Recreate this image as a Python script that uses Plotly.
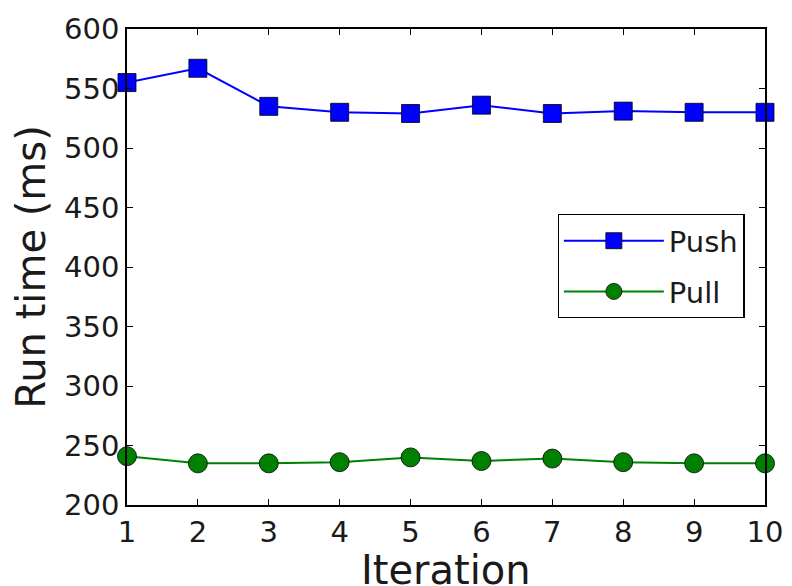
import plotly.graph_objects as go

iterations = [1, 2, 3, 4, 5, 6, 7, 8, 9, 10]
push_ms = [555, 567, 535, 530, 529, 536, 529, 531, 530, 530]
pull_ms = [241, 235, 235, 236, 240, 237, 239, 236, 235, 235]

fig = go.Figure()
fig.add_trace(go.Scatter(
    x=iterations, y=push_ms, name="Push", mode="lines+markers",
    legendgroup="push",
    line=dict(color="#0000ff", width=2),
    marker=dict(symbol="square", size=18, color="#0000ff",
                line=dict(color="black", width=0.8)),
    cliponaxis=False,
))
fig.add_trace(go.Scatter(
    x=iterations, y=pull_ms, name="Pull", mode="lines+markers",
    legendgroup="pull",
    line=dict(color="#008000", width=2),
    marker=dict(symbol="circle", size=19, color="#008000",
                line=dict(color="black", width=0.8)),
    cliponaxis=False,
))

axis_common = dict(
    showgrid=False, zeroline=False, showline=True, linecolor="black",
    linewidth=1.5, mirror="ticks", ticks="inside", ticklen=6,
    tickcolor="black", tickfont=dict(size=29, color="#1a1a1a"),
    automargin=False,
)
fig.update_xaxes(range=[1, 10], tickvals=iterations, **axis_common)
fig.update_yaxes(range=[200, 600], tickvals=list(range(200, 601, 50)),
                 title=dict(text="Run time (ms)", font=dict(size=40, color="#1a1a1a"), standoff=6),
                 **axis_common)

fig.add_annotation(text="Iteration", xref="paper", yref="paper", x=0.5, y=0,
                   xanchor="center", yanchor="top", yshift=-40, showarrow=False,
                   font=dict(size=40, color="#1a1a1a"))

fig.update_layout(
    width=784, height=578,
    margin=dict(l=119, r=27, t=21, b=81),
    plot_bgcolor="white", paper_bgcolor="white",
    font=dict(family="DejaVu Sans", color="#1a1a1a"),
    legend=dict(x=0.675, y=0.611, xanchor="left", yanchor="top",
                bordercolor="black", borderwidth=1.2, bgcolor="white",
                font=dict(size=29), itemwidth=100, tracegroupgap=10),
)
fig.write_html("out.html")
